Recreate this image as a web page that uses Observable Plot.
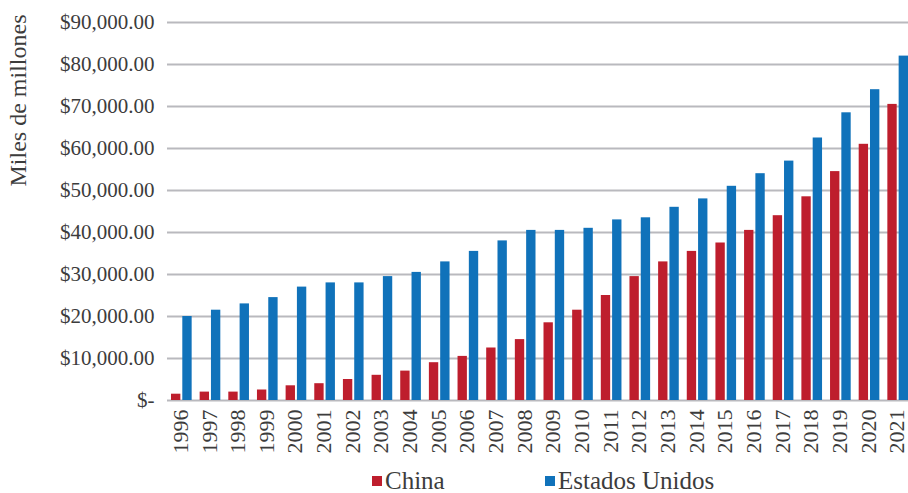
<!DOCTYPE html>
<html>
<head>
<meta charset="utf-8">
<script src="https://cdn.jsdelivr.net/npm/d3@7"></script>
<script src="https://cdn.jsdelivr.net/npm/@observablehq/plot@0.6"></script>
<style>
  html, body { margin: 0; padding: 0; background: #fff; overflow: hidden; }
  #wrap { position: relative; width: 908px; height: 493px; overflow: hidden; }
  #chart svg { display: block; overflow: hidden; }
  .leg { position: absolute; font-family: 'Liberation Serif', serif; font-size: 25px; color: #3c3c3c; line-height: 1; white-space: nowrap; }
  .sw { position: absolute; width: 10px; height: 10px; }
</style>
</head>
<body>
<div id="wrap">
  <div id="chart"></div>
</div>
<script>
const years = ["1996","1997","1998","1999","2000","2001","2002","2003","2004","2005","2006","2007","2008","2009","2010","2011","2012","2013","2014","2015","2016","2017","2018","2019","2020","2021"];
const china = [1500, 2000, 2000, 2500, 3500, 4000, 5000, 6000, 7000, 9000, 10500, 12500, 14500, 18500, 21500, 25000, 29500, 33000, 35500, 37500, 40500, 44000, 48500, 54500, 61000, 70500];
const usa = [20000, 21500, 23000, 24500, 27000, 28000, 28000, 29500, 30500, 33000, 35500, 38000, 40500, 40500, 41000, 43000, 43500, 46000, 48000, 51000, 54000, 57000, 62500, 68500, 74000, 82000];
const seriesNames = ["China", "Estados Unidos"];
const seriesColors = ["#BE1E2D", "#1072BA"];
const yTicks = [0, 10000, 20000, 30000, 40000, 50000, 60000, 70000, 80000, 90000];
const yLabel = "Miles de millones";

const chinaRows = years.map((y, i) => ({year: y, value: china[i]}));
const usaRows = years.map((y, i) => ({year: y, value: usa[i]}));
const fmt = d3.format(",.2f");

const plot = Plot.plot({
  width: 908,
  height: 462,
  marginLeft: 167,
  marginRight: -4,
  marginTop: 22,
  marginBottom: 62,
  style: {fontFamily: "'Liberation Serif', serif", fontSize: "21px", color: "#3c3c3c", background: "white"},
  x: {domain: years, padding: 0, round: false, axis: null},
  y: {domain: [0, 90000], axis: null},
  marks: [
    Plot.ruleY(yTicks, {stroke: "#b9b9be", strokeOpacity: 1, strokeWidth: 2}),
    Plot.barY(chinaRows, {x: "year", y: "value", fill: seriesColors[0], insetLeft: 4, insetRight: 15.3}),
    Plot.barY(usaRows, {x: "year", y: "value", fill: seriesColors[1], insetLeft: 15.3, insetRight: 4}),
    Plot.axisY(yTicks, {tickSize: 0, tickPadding: 13, fontSize: 21, label: null,
      tickFormat: d => d === 0 ? "$-" : "$" + fmt(d)}),
    Plot.axisX({tickSize: 0, tickPadding: 9, tickRotate: -90, fontSize: 22, dx: -1, label: null}),
    Plot.text([yLabel], {text: d => d, frameAnchor: "top-left", dx: -149, dy: 78, rotate: -90,
      fontSize: 24, textAnchor: "middle", lineAnchor: "middle", fill: "#3c3c3c"})
  ]
});
document.getElementById("chart").appendChild(plot);

const wrap = document.getElementById("wrap");
const legendPos = [{sw: 372, tx: 385}, {sw: 545, tx: 558}];
seriesNames.forEach((name, i) => {
  const sw = document.createElement("div");
  sw.className = "sw";
  sw.style.left = legendPos[i].sw + "px";
  sw.style.top = "476px";
  sw.style.background = seriesColors[i];
  wrap.appendChild(sw);
  const t = document.createElement("div");
  t.className = "leg";
  t.style.left = legendPos[i].tx + "px";
  t.style.top = "468px";
  t.textContent = name;
  wrap.appendChild(t);
});
</script>
</body>
</html>
